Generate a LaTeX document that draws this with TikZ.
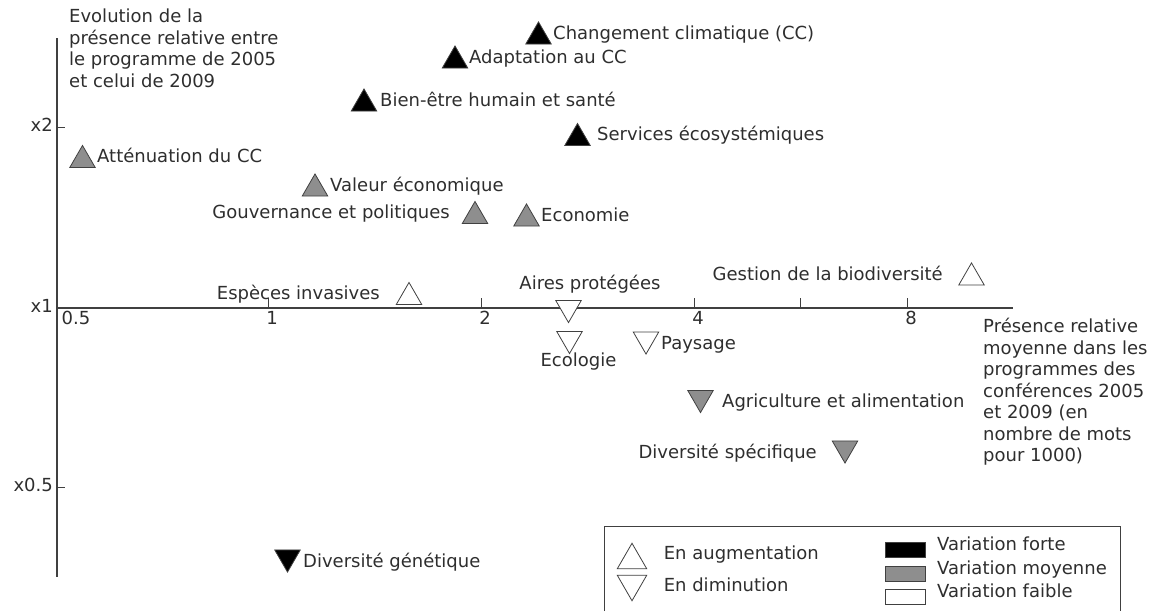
\documentclass[tikz,border=0pt]{standalone}
\usepackage{fontspec}
\setmainfont{DejaVu Sans}
\usetikzlibrary{shapes.geometric, positioning}
\definecolor{txt}{HTML}{2E2E2E}
\definecolor{axe}{HTML}{404040}
\definecolor{moyen}{HTML}{8E8E8E}
\tikzset{tri/.style={regular polygon, regular polygon sides=3, minimum size=29.5pt, inner sep=0pt, outer sep=0pt, draw=axe, line width=0.8pt},
        tu/.style={tri, yshift=-3.7pt},
        td/.style={tri, regular polygon rotate=180, yshift=3.7pt},
        fort/.style={fill=black},
        moy/.style={fill=moyen},
        faible/.style={fill=white},
        lab/.style={inner sep=1pt, text height=0.76em, text depth=0.24em},
        ld/.style={lab, yshift=-7.5pt},
        box/.style={minimum width=40pt, minimum height=15pt, inner sep=0pt, draw=axe, line width=0.8pt},
        titre/.style={inner sep=1pt, align=left, anchor=north west}}

\begin{document}
\begin{tikzpicture}[x=1pt, y=-1pt, font=\fontsize{18}{21.5}\selectfont, text=txt]
    \useasboundingbox (0,0) rectangle (1153,611);

    % axes
    \draw[axe, line width=1.5pt] (57,38) -- (57,577);
    \draw[axe, line width=1.5pt] (57,308) -- (1013,308);
    \foreach \x/\v [count=\i] in {268/1,481/2,694/4,907/8} {
        \draw[axe, line width=1pt] (\x,308) -- (\x,298);
        \node[lab] (xl\i) at (\x+4,322) {\v};
    }
    \draw[axe, line width=1pt] (800,308) -- (800,298);
    \node[lab] (xl0) at (76,322) {0.5};
    \foreach \y/\v [count=\i] in {127/x2,308/x1,487/x0.5} {
        \draw[axe, line width=1pt] (57,\y) -- (65,\y);
        \node[lab, anchor=east] (yl\i) at (54,\y+2) {\v};
    }

    \node[titre] (ytitre) at (68,8) {Evolution de la\\présence relative entre\\le programme de 2005\\et celui de 2009};
    \node[titre] (xtitre) at (982,317) {Présence relative\\moyenne dans les\\programmes des\\conférences 2005\\et 2009 (en\\nombre de mots\\pour 1000)};

    % themes
    \node[tu, fort] (cc) at (538.5,33) {};
    \node[lab, right=5pt of cc] (cc-t) {Changement climatique (CC)};
    \node[tu, fort] (adapt) at (455,57) {};
    \node[lab, right=4.5pt of adapt] (adapt-t) {Adaptation au CC};
    \node[tu, fort] (bien) at (364,100) {};
    \node[lab, right=6.5pt of bien] (bien-t) {Bien-être humain et santé};
    \node[tu, fort] (serv) at (577.5,134.5) {};
    \node[lab, right=10pt of serv] (serv-t) {Services écosystémiques};
    \node[tu, moy] (att) at (82.5,156.5) {};
    \node[lab, right=5pt of att] (att-t) {Atténuation du CC};
    \node[tu, moy] (val) at (315,185) {};
    \node[lab, right=5.5pt of val] (val-t) {Valeur économique};
    \node[tu, moy] (gouv) at (475,212.5) {};
    \node[lab, left=15.5pt of gouv] (gouv-t) {Gouvernance et politiques};
    \node[tu, moy] (eco) at (526.5,215) {};
    \node[lab, right=5pt of eco] (eco-t) {Economie};
    \node[tu, faible] (gest) at (971.5,274) {};
    \node[lab, left=19pt of gest] (gest-t) {Gestion de la biodiversité};
    \node[tu, faible] (esp) at (409,293.5) {};
    \node[lab, left=19.5pt of esp] (esp-t) {Espèces invasives};
    \node[td, faible] (aires) at (568.5,311.5) {};
    \node[lab, above=7pt of aires, xshift=21.5pt] (aires-t) {Aires protégées};
    \node[td, faible] (ecol) at (569.5,342.5) {};
    \node[lab, below=4pt of ecol, xshift=9pt] (ecol-t) {Ecologie};
    \node[td, faible] (pays) at (646,343) {};
    \node[ld, right=5.5pt of pays] (pays-t) {Paysage};
    \node[td, moy] (agri) at (700.5,401.5) {};
    \node[ld, right=12pt of agri] (agri-t) {Agriculture et alimentation};
    \node[td, moy] (dspec) at (845,452) {};
    \node[ld, left=18.5pt of dspec] (dspec-t) {Diversité spécifique};
    \node[td, fort] (dgen) at (287.5,561) {};
    \node[ld, right=6pt of dgen] (dgen-t) {Diversité génétique};

    % legende
    \draw[axe, line width=1pt] (604,611) -- (604,526.5) -- (1120.5,526.5) -- (1120.5,611);
    \node[tri, faible, minimum size=34pt] (aug) at (632,560.25) {};
    \node[lab, right=20.8pt of aug, yshift=3.25pt] (aug-t) {En augmentation};
    \node[tri, faible, minimum size=34pt, regular polygon rotate=180] (dim) at (632,583.75) {};
    \node[lab, right=20.8pt of dim, yshift=-5.25pt] (dim-t) {En diminution};
    \foreach \n/\y/\s/\t in {vf/550/fort/forte, vm/574/moy/moyenne, vb/597/faible/faible} {
        \node[box, \s] (\n) at (905,\y) {};
        \node[lab, right=10.5pt of \n, yshift=2.5pt] (\n-t) {Variation \t};
    }
\end{tikzpicture}
\end{document}
